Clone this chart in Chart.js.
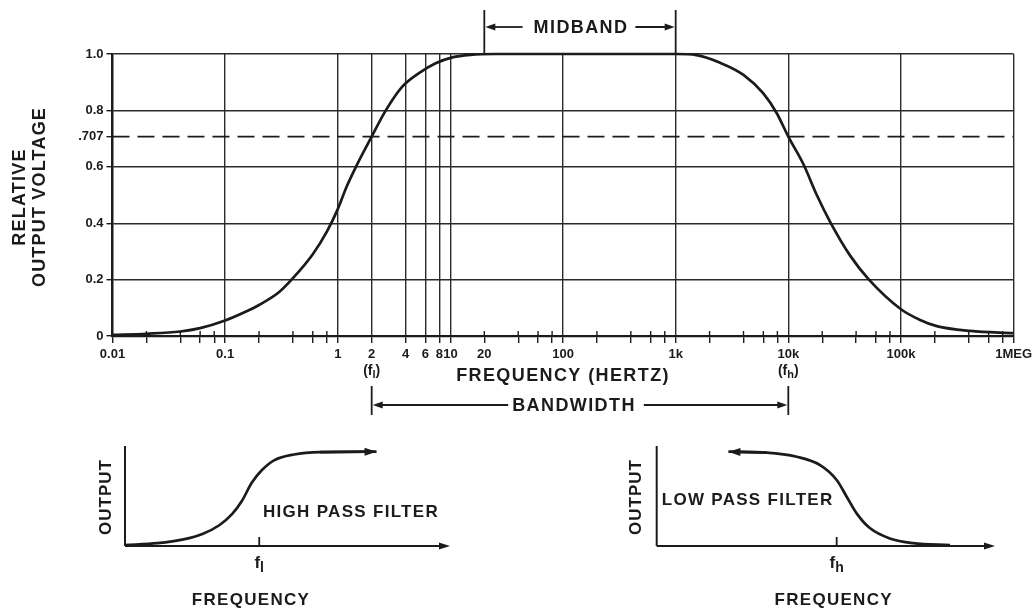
<!DOCTYPE html>
<html>
<head>
<meta charset="utf-8">
<title>Amplifier frequency response</title>
<script src="https://cdn.jsdelivr.net/npm/chart.js@4/dist/chart.umd.min.js"></script>
<style>
  html, body { margin: 0; padding: 0; background: #fff; }
  #wrap { position: relative; width: 1036px; height: 613px; overflow: hidden; background: #fff; }
  canvas { position: absolute; }
  #main { left: 0; top: 0; }
  #hp { left: 0; top: 430px; }
  #lp { left: 520px; top: 430px; }
</style>
</head>
<body>
<div id="wrap">
  <canvas id="main" width="1036" height="430"></canvas>
  <canvas id="hp" width="520" height="183"></canvas>
  <canvas id="lp" width="516" height="183"></canvas>
</div>
<script>
// ---- response curve: relative output voltage against frequency (Hz) ----
const freqHz = [0.01, 0.02, 0.04, 0.06, 0.1, 0.15, 0.2, 0.3, 0.4, 0.6, 0.8, 1, 1.2, 1.45, 2, 2.67, 3.74, 5.26, 7.4, 10.4, 15, 25,
                100, 1000, 1530, 2480, 4000, 6000, 7900, 10000, 13600, 17900, 23500, 35400, 52000, 100000, 148000, 208000, 413000, 1000000];
const relOutput = [0.004, 0.008, 0.016, 0.028, 0.055, 0.085, 0.11, 0.155, 0.205, 0.29, 0.37, 0.45, 0.53, 0.6, 0.707, 0.8, 0.884, 0.932, 0.967, 0.988, 0.997, 1.0,
                   1.0, 1.0, 0.996, 0.969, 0.926, 0.86, 0.79, 0.707, 0.61, 0.5, 0.405, 0.285, 0.2, 0.095, 0.057, 0.035, 0.018, 0.01];

const halfPowerLevel = 0.707;
const fLow = 2;            // lower cutoff
const fHigh = 10000;       // upper cutoff
const midbandStart = 20;
const midbandEnd = 1000;

// ---- axes ----
const xMin = 0.01, xMax = 1e6;
const xLabelValues = [0.01, 0.1, 1, 2, 4, 6, 8, 10, 20, 100, 1000, 1e4, 1e5, 1e6];
const xLabelTexts  = ['0.01', '0.1', '1', '2', '4', '6', '8', '10', '20', '100', '1k', '10k', '100k', '1MEG'];
const xGridValues  = [0.01, 0.1, 1, 2, 4, 6, 8, 10, 100, 1000, 1e4, 1e5, 1e6];
const minorSteps   = [2, 4, 6, 8];
const yTickValues  = [0, 0.2, 0.4, 0.6, 0.707, 0.8, 1.0];
const yTickLabels  = ['0', '0.2', '0.4', '0.6', '.707', '0.8', '1.0'];

// ---- small filter sketches (arbitrary units) ----
const highPassX = [0, 1.0, 1.8, 2.4, 2.9, 3.3, 3.6, 3.9, 4.2, 4.6, 5.2, 6.0, 7.74];
const highPassY = [0.01, 0.03, 0.07, 0.13, 0.22, 0.34, 0.48, 0.67, 0.8, 0.91, 0.97, 0.995, 1.0];
const highPassCut = 4.13;
const lowPassX = [2.12, 3.25, 4.14, 4.83, 5.32, 5.62, 5.91, 6.3, 6.89, 7.58, 8.67];
const lowPassY = [1.0, 0.99, 0.946, 0.858, 0.70, 0.52, 0.346, 0.19, 0.08, 0.03, 0.01];
const lowPassCut = 5.32;

const FONT = '"Liberation Sans", Arial, Helvetica, sans-serif';
const INK = '#1b1b1b';
const GRID = '#2b2b2b';

// every tick position on the frequency axis: decades plus 2,4,6,8 within each
const xTickValues = [];
for (let e = -2; e <= 6; e++) {
  xTickValues.push(Math.pow(10, e));
  if (e < 6) minorSteps.forEach(m => xTickValues.push(+(m * Math.pow(10, e)).toPrecision(6)));
}

const sameLog = (a, b) => Math.abs(Math.log10(a) - Math.log10(b)) < 1e-6;
const xLabelFor = v => { const i = xLabelValues.findIndex(l => sameLog(l, v)); return i >= 0 ? xLabelTexts[i] : ''; };
const hasGridLine = v => xGridValues.some(g => sameLog(g, v));
const yLabelFor = v => { const i = yTickValues.findIndex(t => Math.abs(t - v) < 1e-9); return i >= 0 ? yTickLabels[i] : ''; };

// ---- drawing helpers ----
function text(ctx, str, x, y, size, opt = {}) {
  ctx.save();
  ctx.font = `bold ${size}px ${FONT}`;
  ctx.fillStyle = INK;
  ctx.textAlign = opt.align || 'center';
  ctx.textBaseline = 'middle';
  if ('letterSpacing' in ctx) ctx.letterSpacing = (opt.spacing || 0) + 'px';
  ctx.translate(x, y);
  if (opt.rotate) ctx.rotate(opt.rotate);
  ctx.fillText(str, 0, 0);
  ctx.restore();
}
function textWidth(ctx, str, size, spacing) {
  ctx.save();
  ctx.font = `bold ${size}px ${FONT}`;
  if ('letterSpacing' in ctx) ctx.letterSpacing = (spacing || 0) + 'px';
  const w = ctx.measureText(str).width;
  ctx.restore();
  return w;
}
// "f" with a subscript letter, optionally wrapped in parentheses
function subLabel(ctx, sub, cx, cy, size, paren) {
  const subSize = Math.round(size * 0.8);
  const pre = paren ? '(f' : 'f', post = paren ? ')' : '';
  const w1 = textWidth(ctx, pre, size), w2 = textWidth(ctx, sub, subSize), w3 = textWidth(ctx, post, size);
  let x = cx - (w1 + w2 + w3) / 2;
  text(ctx, pre, x, cy, size, { align: 'left' }); x += w1;
  text(ctx, sub, x, cy + size * 0.3, subSize, { align: 'left' }); x += w2;
  if (post) text(ctx, post, x, cy, size, { align: 'left' });
}
function seg(ctx, x1, y1, x2, y2) {
  ctx.beginPath(); ctx.moveTo(x1, y1); ctx.lineTo(x2, y2); ctx.stroke();
}
function arrow(ctx, x1, y1, x2, y2, len = 10, half = 3.6) {
  const a = Math.atan2(y2 - y1, x2 - x1), c = Math.cos(a), s = Math.sin(a);
  seg(ctx, x1, y1, x2 - c * len * 0.6, y2 - s * len * 0.6);
  ctx.beginPath();
  ctx.moveTo(x2, y2);
  ctx.lineTo(x2 - c * len + s * half, y2 - s * len - c * half);
  ctx.lineTo(x2 - c * len - s * half, y2 - s * len + c * half);
  ctx.closePath();
  ctx.fill();
}

// ---- annotations on the main response chart ----
const mainDecor = {
  id: 'mainDecor',
  afterDraw(chart) {
    const { ctx, chartArea: a, scales: { x } } = chart;
    ctx.save();
    ctx.strokeStyle = INK;
    ctx.fillStyle = INK;

    // tick marks without a grid line also reach a little above the axis
    ctx.lineWidth = 1.4;
    xTickValues.forEach(v => {
      if (!hasGridLine(v)) { const px = x.getPixelForValue(v); seg(ctx, px, a.bottom - 5, px, a.bottom); }
    });

    // cutoff markers under the tick labels
    subLabel(ctx, 'l', x.getPixelForValue(fLow), 371, 14, true);
    subLabel(ctx, 'h', x.getPixelForValue(fHigh), 371, 14, true);

    // axis titles
    text(ctx, 'FREQUENCY (HERTZ)', (a.left + a.right) / 2, 376, 18, { spacing: 1.4 });
    text(ctx, 'RELATIVE', 20, 197, 18, { spacing: 1.2, rotate: -Math.PI / 2 });
    text(ctx, 'OUTPUT VOLTAGE', 40, 197, 18, { spacing: 1.2, rotate: -Math.PI / 2 });

    // MIDBAND span above the plot
    ctx.lineWidth = 1.8;
    const m1 = x.getPixelForValue(midbandStart), m2 = x.getPixelForValue(midbandEnd);
    seg(ctx, m1, 10, m1, a.top);
    seg(ctx, m2, 10, m2, a.top);
    const mc = (m1 + m2) / 2 + 1, mw = textWidth(ctx, 'MIDBAND', 18, 1.4);
    text(ctx, 'MIDBAND', mc, 28, 18, { spacing: 1.4 });
    arrow(ctx, mc - mw / 2 - 11, 27, m1 + 1, 27);
    arrow(ctx, mc + mw / 2 + 7, 27, m2 - 1, 27);

    // BANDWIDTH span below the axis
    const b1 = x.getPixelForValue(fLow), b2 = x.getPixelForValue(fHigh);
    seg(ctx, b1, 386, b1, 415);
    seg(ctx, b2, 386, b2, 415);
    const bc = (b1 + b2) / 2 - 6, bw = textWidth(ctx, 'BANDWIDTH', 18, 1.4);
    text(ctx, 'BANDWIDTH', bc, 406, 18, { spacing: 1.4 });
    arrow(ctx, bc - bw / 2 - 4, 405, b1 + 1, 405);
    arrow(ctx, bc + bw / 2 + 8, 405, b2 - 1, 405);
    ctx.restore();
  }
};

new Chart(document.getElementById('main'), {
  type: 'scatter',
  data: {
    datasets: [
      {
        label: 'Relative output',
        data: freqHz.map((f, i) => ({ x: f, y: relOutput[i] })),
        showLine: true, borderColor: INK, borderWidth: 2.7,
        pointRadius: 0, cubicInterpolationMode: 'monotone', clip: false
      },
      {
        label: 'Half-power level',
        data: [{ x: xMin, y: halfPowerLevel }, { x: xMax, y: halfPowerLevel }],
        showLine: true, borderColor: INK, borderWidth: 1.8, borderDash: [17, 8],
        pointRadius: 0, clip: false
      }
    ]
  },
  options: {
    responsive: false, animation: false, events: [],
    layout: { padding: { left: 0, top: 54, right: 19.5, bottom: 0 } },
    plugins: { legend: { display: false }, tooltip: { enabled: false } },
    scales: {
      x: {
        type: 'logarithmic', min: xMin, max: xMax,
        afterBuildTicks: s => { s.ticks = xTickValues.map(v => ({ value: v })); },
        afterFit: s => { s.height = 94; },
        ticks: {
          autoSkip: false, maxRotation: 0, minRotation: 0, padding: 4,
          color: INK, font: { family: FONT, size: 13, weight: 'bold' },
          callback: v => xLabelFor(v)
        },
        grid: {
          color: c => (c.tick && hasGridLine(c.tick.value)) ? GRID : 'rgba(0,0,0,0)',
          lineWidth: 1.4, tickLength: 7, tickColor: INK, tickWidth: 1.4
        },
        border: { color: INK, width: 2.2 }
      },
      y: {
        min: 0, max: 1,
        afterBuildTicks: s => { s.ticks = yTickValues.map(v => ({ value: v })); },
        afterFit: s => { s.width = 112.5; },
        ticks: {
          padding: 3, color: INK, font: { family: FONT, size: 13, weight: 'bold' },
          callback: v => yLabelFor(v)
        },
        grid: {
          color: c => (c.tick && Math.abs(c.tick.value - halfPowerLevel) < 1e-9) ? 'rgba(0,0,0,0)' : GRID,
          lineWidth: 1.4, tickLength: 6, tickColor: INK, tickWidth: 1.4
        },
        border: { color: INK, width: 2.2 }
      }
    }
  },
  plugins: [mainDecor]
});

// ---- filter sketches ----
function insetDecor(cfg) {
  return {
    id: 'insetDecor',
    afterDraw(chart) {
      const { ctx, chartArea: a, scales: { x } } = chart;
      ctx.save();
      ctx.strokeStyle = INK; ctx.fillStyle = INK;
      ctx.lineWidth = 2;
      seg(ctx, a.left, a.top, a.left, a.bottom);
      arrow(ctx, a.left, a.bottom, a.right, a.bottom, 11, 3.6);

      const cx = x.getPixelForValue(cfg.cutoff);
      ctx.lineWidth = 1.8;
      seg(ctx, cx, a.bottom - 9, cx, a.bottom);
      subLabel(ctx, cfg.sub, cx, a.bottom + 17, 17, false);

      // arrowhead on the curve
      const pts = chart.getDatasetMeta(0).data;
      const tip = cfg.arrowAtStart ? pts[0] : pts[pts.length - 1];
      const prev = cfg.arrowAtStart ? pts[1] : pts[pts.length - 2];
      ctx.lineWidth = 2.6;
      arrow(ctx, prev.x, prev.y, tip.x, tip.y, 12, 4);

      text(ctx, 'OUTPUT', a.left + cfg.outputDx, a.top + 51, 17, { spacing: 1, rotate: -Math.PI / 2 });
      text(ctx, 'FREQUENCY', a.left + cfg.freqDx, a.bottom + 54, 17, { spacing: 1.3 });
      text(ctx, cfg.title, a.left + cfg.titleDx, a.top + cfg.titleDy, 17, { align: 'left', spacing: 1.3 });
      ctx.restore();
    }
  };
}

function makeInset(id, xs, ys, cfg) {
  return new Chart(document.getElementById(id), {
    type: 'scatter',
    data: {
      datasets: [{
        data: xs.map((v, i) => ({ x: v, y: ys[i] })),
        showLine: true, borderColor: INK, borderWidth: 2.7,
        pointRadius: 0, cubicInterpolationMode: 'monotone', clip: false
      }]
    },
    options: {
      responsive: false, animation: false, events: [],
      layout: { padding: cfg.padding },
      plugins: { legend: { display: false }, tooltip: { enabled: false } },
      scales: {
        x: { type: 'linear', min: 0, max: 10, display: false },
        y: { min: 0, max: 1.06, display: false }
      }
    },
    plugins: [insetDecor(cfg)]
  });
}

makeInset('hp', highPassX, highPassY, {
  padding: { left: 125, right: 70, top: 16, bottom: 67 },
  cutoff: highPassCut, sub: 'l', arrowAtStart: false,
  outputDx: -18.5, freqDx: 126, title: 'HIGH PASS FILTER', titleDx: 138, titleDy: 66
});
makeInset('lp', lowPassX, lowPassY, {
  padding: { left: 136.7, right: 41, top: 16, bottom: 67 },
  cutoff: lowPassCut, sub: 'h', arrowAtStart: true,
  outputDx: -20, freqDx: 177, title: 'LOW PASS FILTER', titleDx: 5, titleDy: 54.5
});
</script>
</body>
</html>
